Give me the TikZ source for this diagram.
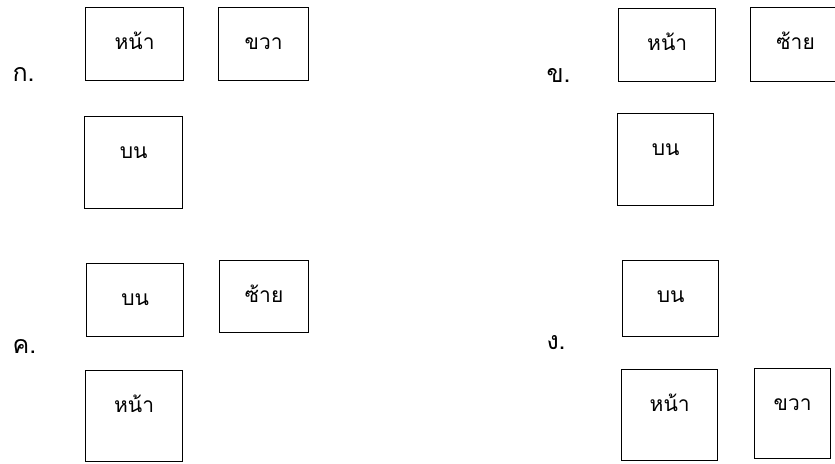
\documentclass[tikz,border=0pt]{standalone}
\usepackage{fontspec}
\newfontfamily\thaifont[Script=Thai]{Loma}
\usetikzlibrary{positioning}

\begin{document}
\begin{tikzpicture}[
  x=1pt, y=-1pt,
  font=\thaifont,
  box/.style={draw, line width=1.3pt, anchor=north west, inner sep=0pt},
  word/.style={anchor=base, font=\thaifont\fontsize{21}{25}\selectfont},
  tag/.style={anchor=base west, font=\thaifont\fontsize{25}{29}\selectfont},
]
\clip (0,0) rectangle (835,463);

% answer tags
\node[tag] (ta) at (9,81) {ก.};
\node[tag] (tb) at (543,82) {ข.};
\node[tag] (tc) at (9,353) {ค.};
\node[tag] (td) at (543,349) {ง.};

% boxes: name / left / top / width / height / text
\foreach \n/\x/\y/\w/\h/\t in {
    a1/85/7/98/73/หน้า, a2/218/7/90/73/ขวา, a3/84/116/98/92/บน,
    b1/618/8/97/73/หน้า, b2/750/7/90/74/ซ้าย, b3/617/113/96/92/บน,
    c1/86/263/97/73/บน, c2/219/260/89/72/ซ้าย, c3/85/370/97/91/หน้า,
    d1/622/260/96/76/บน, d2/621/369/96/91/หน้า, d3/754/368/76/90/ขวา} {
  \node[box, minimum width=\w pt, minimum height=\h pt] (\n) at (\x,\y) {};
  \node[word] (\n w) at ([yshift=-42pt]\n.north) {\t};
}
\end{tikzpicture}
\end{document}
